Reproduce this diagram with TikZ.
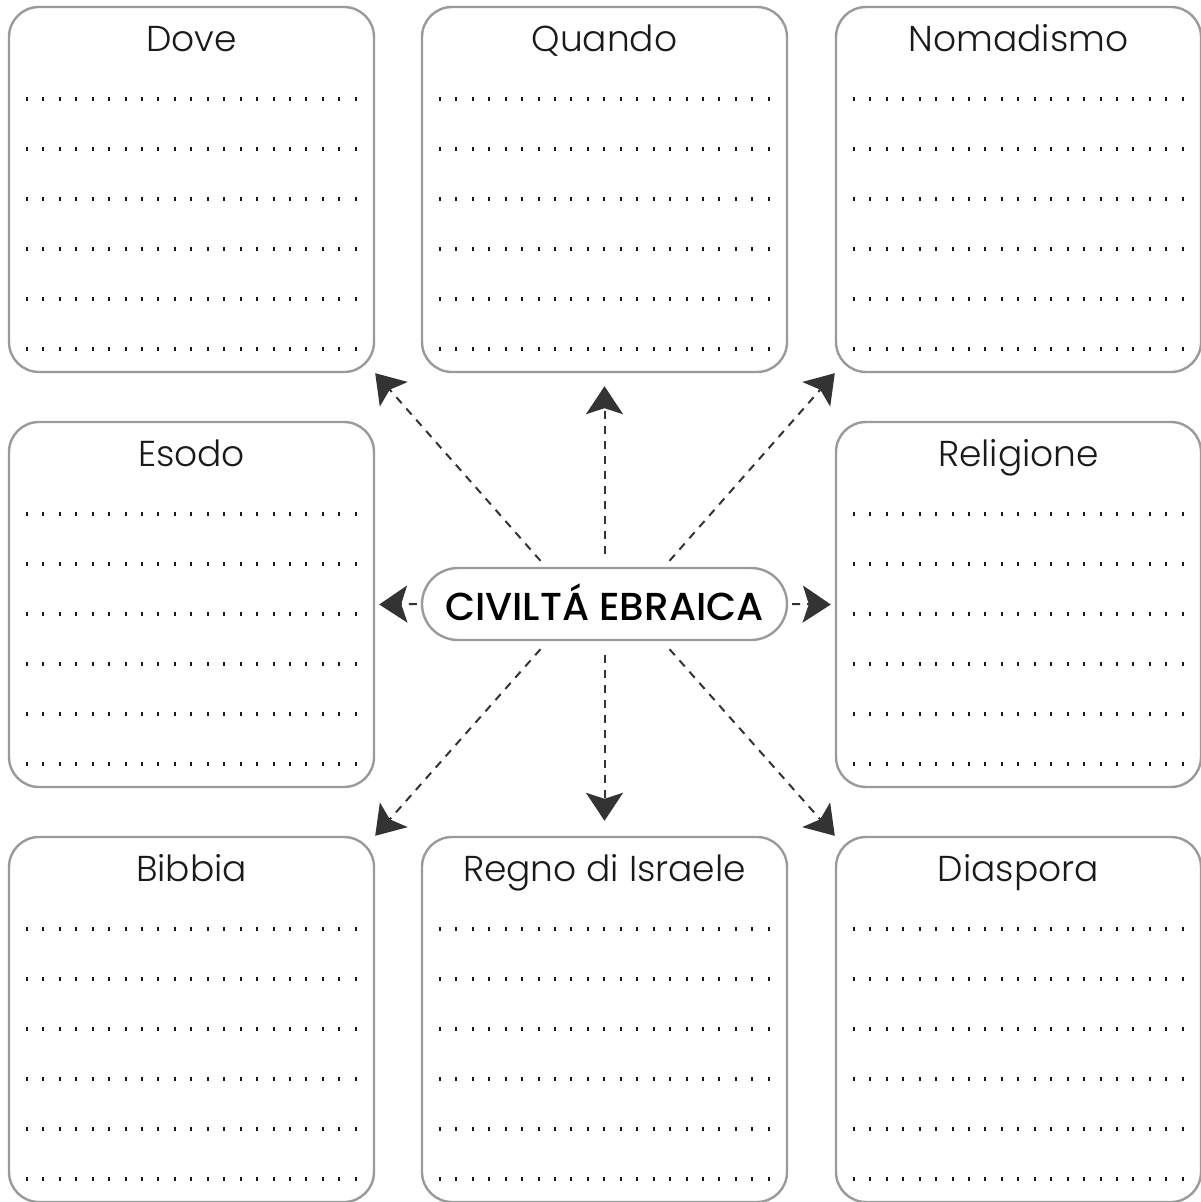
\documentclass[tikz,border=0pt]{standalone}
\usepackage{fontspec}
\setmainfont{Poppins Light}
\newfontfamily\titlefont{Poppins Medium}
\usetikzlibrary{calc,arrows.meta}
\definecolor{boxgray}{HTML}{9A9A9A}
\definecolor{arrowdark}{HTML}{333333}
\definecolor{textdark}{HTML}{1A1A1A}

\begin{document}
\begin{tikzpicture}[x=0.5pt,y=-0.5pt,
		box/.style={draw=boxgray,line width=1.2pt,rounded corners=15pt,minimum width=182.5pt,minimum height=182.5pt,inner sep=0pt},
		title/.style={anchor=base,text=textdark,font=\fontsize{18}{20}\selectfont},
		dotrow/.style={line width=2pt,dash pattern=on 1pt off 7.225pt,textdark},
		link/.style={arrowdark,line width=1pt,dash pattern=on 4pt off 3.5pt,-{Stealth[length=14pt,width=18.5pt,inset=3pt]}}]
		\useasboundingbox (0,0) rectangle (1200,1202);
		
		\foreach \name/\txt/\cx/\cy in {dove/Dove/191.5/189.5, quando/Quando/604.5/189.5, nomad/Nomadismo/1018.5/189.5, esodo/Esodo/191.5/604.5, relig/Religione/1018.5/604.5, bibbia/Bibbia/191.5/1019.5, regno/Regno di Israele/604.5/1019.5, diasp/Diaspora/1018.5/1019.5}{
			\node[box] (\name) at (\cx,\cy) {};
			\node[title] (\name-t) at ($(\name.north)+(0,46)$) {\txt};
			\foreach \r in {0,...,5}
				\draw[dotrow] ($(\name.north west)+(18,93+50*\r)$) -- ++(331,0);
		}
		
		\node[draw=boxgray,line width=1.2pt,rounded corners=18pt,minimum width=182.5pt,minimum height=36pt,inner sep=0pt,text height=16pt,text depth=0pt,text=black,font=\titlefont\fontsize{19.5}{22}\selectfont] (civ) at (604.5,604) {CIVILTÁ EBRAICA};
		
		\draw[link] ($(civ.north)+(0,-13)$) -- ($(quando.south)+(0,13)$);
		\draw[link] ($(civ.south)+(0,14)$) -- ($(regno.north)+(0,-15)$);
		\draw[link] ($(civ.west)+(-4,0)$) -- ($(esodo.east)+(4,0)$);
		\draw[link] ($(civ.east)+(4,0)$) -- ($(relig.west)+(-4,0)$);
		\draw[link] ($(civ.north)+(-64,-6)$) -- (dove.south east);
		\draw[link] ($(civ.north)+(65,-6)$) -- (nomad.south west);
		\draw[link] ($(civ.south)+(-64,8)$) -- (bibbia.north east);
		\draw[link] ($(civ.south)+(65,8)$) -- (diasp.north west);
	\end{tikzpicture}
\end{document}
